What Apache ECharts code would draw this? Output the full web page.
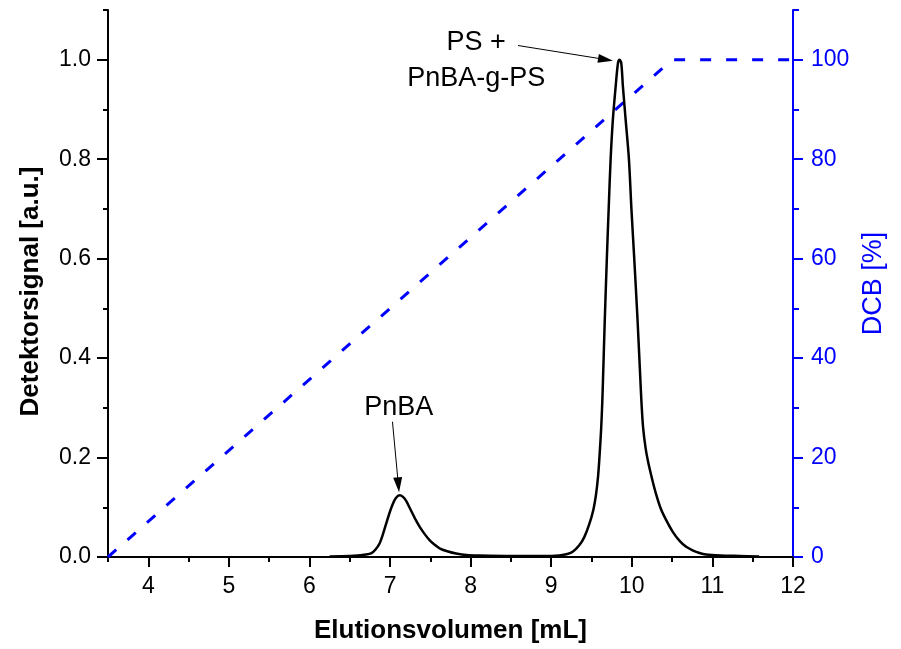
<!DOCTYPE html>
<html>
<head>
<meta charset="utf-8">
<script src="https://cdn.jsdelivr.net/npm/echarts@6/dist/echarts.min.js"></script>
<style>
html,body{margin:0;padding:0;background:#fff;}
#chart{width:901px;height:649px;}
</style>
</head>
<body>
<div id="chart"></div>
<script>
// ---- data ----
var elutionVolume = [6.25, 6.5, 6.6, 6.7, 6.77, 6.82, 6.87, 6.91, 6.95, 6.99, 7.03, 7.07, 7.12, 7.16, 7.20, 7.24, 7.28, 7.32, 7.37, 7.43, 7.49, 7.55, 7.62, 7.72, 7.82, 7.95, 8.1, 8.5, 9.0, 9.1, 9.2, 9.27, 9.35, 9.41, 9.47, 9.52, 9.555, 9.58, 9.60, 9.62, 9.633, 9.643, 9.665, 9.69, 9.715, 9.737, 9.765, 9.80, 9.828, 9.848, 9.869, 9.889, 9.923, 9.964, 9.995, 10.03, 10.07, 10.105, 10.12, 10.14, 10.17, 10.20, 10.25, 10.30, 10.36, 10.43, 10.51, 10.59, 10.67, 10.76, 10.84, 10.92, 11.1, 11.34, 11.58];
var detectorSignal = [0.001, 0.002, 0.003, 0.005, 0.008, 0.015, 0.027, 0.045, 0.066, 0.087, 0.105, 0.118, 0.124, 0.121, 0.113, 0.100, 0.087, 0.074, 0.060, 0.046, 0.034, 0.025, 0.017, 0.011, 0.007, 0.004, 0.003, 0.002, 0.002, 0.003, 0.006, 0.011, 0.024, 0.040, 0.065, 0.093, 0.125, 0.160, 0.205, 0.260, 0.310, 0.360, 0.480, 0.600, 0.710, 0.800, 0.880, 0.947, 0.993, 1.000, 0.993, 0.947, 0.880, 0.800, 0.700, 0.600, 0.480, 0.360, 0.310, 0.260, 0.220, 0.193, 0.158, 0.127, 0.097, 0.073, 0.050, 0.033, 0.021, 0.013, 0.008, 0.005, 0.003, 0.002, 0.001];
var dcbVolume = [3.5, 10.5, 12];
var dcbPercent = [0, 100, 100];

var xMajorTicks = [4, 5, 6, 7, 8, 9, 10, 11, 12];
var xMinorTicks = [3.5, 4.5, 5.5, 6.5, 7.5, 8.5, 9.5, 10.5, 11.5];
var yMajorTicks = [0, 0.2, 0.4, 0.6, 0.8, 1.0];
var yMinorTicks = [0.1, 0.3, 0.5, 0.7, 0.9, 1.1];
var y2MajorTicks = [0, 20, 40, 60, 80, 100];
var y2MinorTicks = [10, 30, 50, 70, 90, 110];

var annotations = [
  {text: 'PnBA', at: [7.108, 0.300], from: [7.030, 0.272], to: [7.103, 0.145]},
  {text: 'PS +\nPnBA-g-PS', at: [8.069, 0.998], from: [8.587, 1.0286], to: [9.674, 1.0004]}
];

var FONT = '"Liberation Sans", Arial, Helvetica, sans-serif';
var BLUE = '#0000ff';

function zip(a, b) { return a.map(function (v, i) { return [v, b[i]]; }); }

var chart = echarts.init(document.getElementById('chart'), null, {renderer: 'canvas'});

var option = {
  animation: false,
  backgroundColor: '#ffffff',
  grid: {left: 108, right: 108, top: 10, height: 550, containLabel: false},
  xAxis: [
    {
      type: 'value', min: 3.5, max: 12, position: 'bottom',
      name: 'Elutionsvolumen [mL]', nameLocation: 'middle', nameGap: 61,
      nameTextStyle: {fontFamily: FONT, fontSize: 26, fontWeight: 'bold', color: '#000'},
      axisLine: {show: true, onZero: false, lineStyle: {color: '#000', width: 2}},
      axisTick: {show: true, inside: false, length: 10, lineStyle: {color: '#000', width: 2}, customValues: xMajorTicks},
      axisLabel: {show: true, margin: 18, fontFamily: FONT, fontSize: 23, color: '#000', customValues: xMajorTicks},
      splitLine: {show: false}
    },
    {
      type: 'value', min: 3.5, max: 12, position: 'bottom',
      axisLine: {show: false, onZero: false},
      axisTick: {show: true, inside: false, length: 5, lineStyle: {color: '#000', width: 2}, customValues: xMinorTicks},
      axisLabel: {show: false},
      splitLine: {show: false}
    }
  ],
  yAxis: [
    {
      type: 'value', min: 0, max: 1.1, position: 'left',
      name: 'Detektorsignal [a.u.]', nameLocation: 'middle', nameGap: 64,
      nameTextStyle: {fontFamily: FONT, fontSize: 26, fontWeight: 'bold', color: '#000', padding: [0, 16, 0, 0]},
      axisLine: {show: true, onZero: false, lineStyle: {color: '#000', width: 2}},
      axisTick: {show: true, inside: false, length: 11, lineStyle: {color: '#000', width: 2}, customValues: yMajorTicks},
      axisLabel: {show: true, margin: 17, fontFamily: FONT, fontSize: 23, color: '#000', customValues: yMajorTicks,
        formatter: function (v) { return v.toFixed(1); }},
      splitLine: {show: false}
    },
    {
      type: 'value', min: 0, max: 110, position: 'right',
      name: 'DCB [%]', nameLocation: 'middle', nameGap: 64,
      nameTextStyle: {fontFamily: FONT, fontSize: 27, color: BLUE},
      axisLine: {show: true, onZero: false, lineStyle: {color: BLUE, width: 2}},
      axisTick: {show: true, inside: false, length: 10, lineStyle: {color: BLUE, width: 2}, customValues: y2MajorTicks},
      axisLabel: {show: true, margin: 18, fontFamily: FONT, fontSize: 23, color: BLUE, customValues: y2MajorTicks},
      splitLine: {show: false}
    },
    {
      type: 'value', min: 0, max: 1.1, position: 'left',
      axisLine: {show: false, onZero: false},
      axisTick: {show: true, inside: false, length: 5, lineStyle: {color: '#000', width: 2}, customValues: yMinorTicks},
      axisLabel: {show: false},
      splitLine: {show: false}
    },
    {
      type: 'value', min: 0, max: 110, position: 'right',
      axisLine: {show: false, onZero: false},
      axisTick: {show: true, inside: false, length: 6, lineStyle: {color: BLUE, width: 2}, customValues: y2MinorTicks},
      axisLabel: {show: false},
      splitLine: {show: false}
    }
  ],
  series: [
    {
      name: 'DCB', type: 'line', xAxisIndex: 0, yAxisIndex: 1,
      data: zip(dcbVolume, dcbPercent),
      showSymbol: false, symbol: 'none',
      lineStyle: {color: BLUE, width: 3, type: [11, 15], cap: 'butt'},
      z: 2
    },
    {
      name: 'Signal', type: 'line', xAxisIndex: 0, yAxisIndex: 0,
      data: zip(elutionVolume, detectorSignal),
      showSymbol: false, symbol: 'none', smooth: 0.3,
      lineStyle: {color: '#000', width: 2.5},
      z: 3,
      markLine: {
        silent: true, animation: false,
        symbol: ['none', 'triangle'], symbolSize: [9, 15],
        label: {show: false},
        lineStyle: {color: '#000', width: 1, type: 'solid'},
        itemStyle: {color: '#000'},
        data: annotations.map(function (a) { return [{coord: a.from}, {coord: a.to}]; })
      },
      markPoint: {
        silent: true, animation: false,
        symbol: 'circle', symbolSize: 1,
        itemStyle: {color: 'rgba(0,0,0,0)'},
        label: {show: true, position: 'inside', color: '#000', fontFamily: FONT, fontSize: 27, lineHeight: 36, align: 'center', verticalAlign: 'middle'},
        data: annotations.map(function (a) { return {coord: a.at, value: a.text, label: {formatter: a.text}}; })
      }
    }
  ]
};
chart.setOption(option);
</script>
</body>
</html>
